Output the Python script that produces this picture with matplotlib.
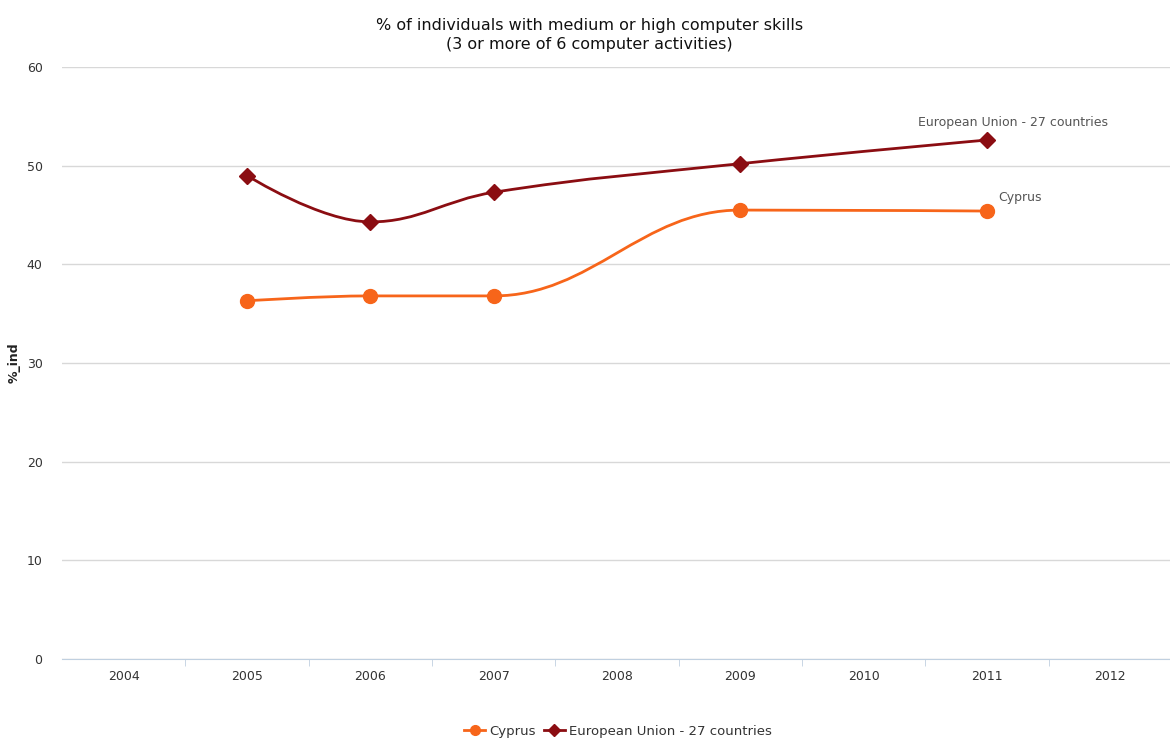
import numpy as np
import matplotlib
matplotlib.use("Agg")
import matplotlib.pyplot as plt
from matplotlib.path import Path
from matplotlib.patches import PathPatch
from matplotlib.lines import Line2D

years = ["2004", "2005", "2006", "2007", "2008", "2009", "2010", "2011", "2012"]
cyprus_years = [2005, 2006, 2007, 2009, 2011]
cyprus_values = [36.3, 36.8, 36.8, 45.5, 45.4]
eu_years = [2005, 2006, 2007, 2009, 2011]
eu_values = [49.0, 44.3, 47.3, 50.2, 52.6]

CYPRUS = "#f7651a"
EU = "#8b0d12"


def spline_path(xs, ys, smoothing=1.5):
    # Highcharts-style spline: cubic bezier with clamped control points
    denom = smoothing + 1
    n = len(xs)
    left = [None] * n
    right = [None] * n
    for i in range(1, n - 1):
        px, py = xs[i], ys[i]
        lx, ly = xs[i - 1], ys[i - 1]
        nx, ny = xs[i + 1], ys[i + 1]
        lcx = (smoothing * px + lx) / denom
        lcy = (smoothing * py + ly) / denom
        rcx = (smoothing * px + nx) / denom
        rcy = (smoothing * py + ny) / denom
        corr = ((rcy - lcy) * (rcx - px)) / (rcx - lcx) + py - rcy
        lcy += corr
        rcy += corr
        if lcy > ly and lcy > py:
            lcy = max(ly, py)
            rcy = 2 * py - lcy
        elif lcy < ly and lcy < py:
            lcy = min(ly, py)
            rcy = 2 * py - lcy
        if rcy > ny and rcy > py:
            rcy = max(ny, py)
            lcy = 2 * py - rcy
        elif rcy < ny and rcy < py:
            rcy = min(ny, py)
            lcy = 2 * py - rcy
        left[i] = (lcx, lcy)
        right[i] = (rcx, rcy)
    verts = [(xs[0], ys[0])]
    codes = [Path.MOVETO]
    for i in range(1, n):
        c1 = right[i - 1] if right[i - 1] is not None else (xs[i - 1], ys[i - 1])
        c2 = left[i] if left[i] is not None else (xs[i], ys[i])
        verts += [c1, c2, (xs[i], ys[i])]
        codes += [Path.CURVE4] * 3
    return Path(verts, codes)


fig = plt.figure(figsize=(11.7, 7.39), dpi=100)
ax = fig.add_axes([62 / 1170, 1 - 659 / 739, 1110 / 1170, (659 - 67) / 739])

first = int(years[0])
for yr, vals, col in [(cyprus_years, cyprus_values, CYPRUS), (eu_years, eu_values, EU)]:
    xs = [y - first for y in yr]
    path = spline_path(xs, vals)
    ax.add_patch(PathPatch(path, facecolor="none", edgecolor=col, lw=2.0, zorder=3))

ax.plot([y - first for y in cyprus_years], cyprus_values, "o", color=CYPRUS,
        markersize=10, zorder=4)
ax.plot([y - first for y in eu_years], eu_values, "D", color=EU,
        markersize=8, zorder=4)

ax.annotate("European Union - 27 countries", (eu_years[-1] - first, eu_values[-1]),
            xytext=(-50, 10), textcoords="offset points", fontsize=9,
            color="#555555")
ax.annotate("Cyprus", (cyprus_years[-1] - first, cyprus_values[-1]),
            xytext=(8, 7), textcoords="offset points", fontsize=9,
            color="#555555")

ax.set_xlim(-0.5, len(years) - 0.5)
ax.set_ylim(0, 60)
ax.set_yticks(range(0, 61, 10))
ax.set_xticks(range(len(years)))
ax.set_xticklabels(years)
ax.set_xticks(np.arange(0.5, len(years) - 0.5, 1), minor=True)
ax.tick_params(axis="x", which="major", length=0, pad=8, labelsize=9, labelcolor="#333333")
ax.tick_params(axis="x", which="minor", length=5, color="#c0d0e0", direction="out")
ax.tick_params(axis="y", length=0, pad=14, labelsize=9, labelcolor="#333333")
ax.yaxis.grid(True, color="#d8d8d8", lw=1)
ax.set_axisbelow(True)
for s in ["top", "right", "left"]:
    ax.spines[s].set_visible(False)
ax.spines["bottom"].set_color("#c0d0e0")

ax.set_ylabel("%_ind", fontsize=9, fontweight="bold", color="#222222", labelpad=4)

fig.text(0.504, 0.953, "% of individuals with medium or high computer skills\n(3 or more of 6 computer activities)",
         ha="center", va="center", fontsize=11.5, color="#111111", linespacing=1.3)

handles = [
    Line2D([], [], color=CYPRUS, marker="o", lw=2, markersize=7),
    Line2D([], [], color=EU, marker="D", lw=2, markersize=6),
]
fig.legend(handles, ["Cyprus", "European Union - 27 countries"], loc="center",
           bbox_to_anchor=(0.528, 1 - 731 / 739), ncol=2, frameon=False,
           fontsize=9.5, handlelength=1.6, handletextpad=0.3, columnspacing=0.6,
           labelcolor="#333333")

fig.savefig("out.png", dpi=100)
